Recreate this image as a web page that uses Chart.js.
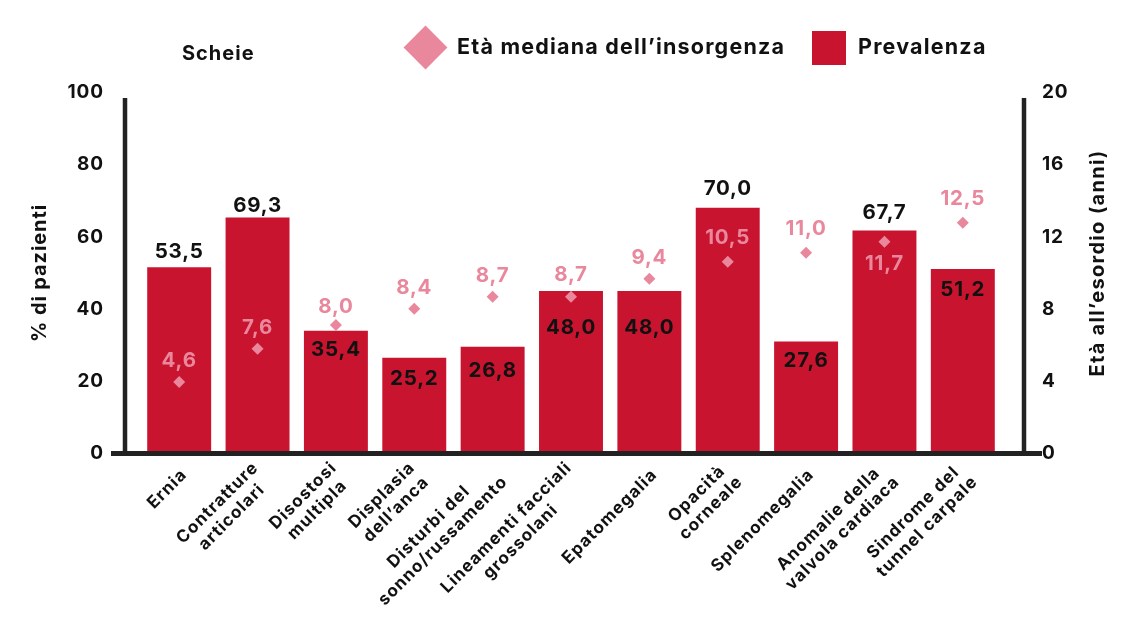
<!DOCTYPE html>
<html lang="it">
<head>
<meta charset="utf-8">
<title>Scheie</title>
<script src="https://cdn.jsdelivr.net/npm/chart.js@4.4.1/dist/chart.umd.min.js"></script>
<style>
  body { margin: 0; background: #fff; font-family: Inter, "Open Sans", sans-serif; }
  #wrap { position: relative; width: 1146px; height: 635px; }
  #wrap canvas { position: absolute; left: 0; top: 0; }
  .lg { position: absolute; font-weight: 700; font-size: 21.5px; letter-spacing: 1.2px; color: #111; white-space: nowrap; line-height: 26px; }
  .sw-diamond { position: absolute; width: 31px; height: 31px; background: #E9879D; transform: rotate(45deg); }
  .sw-square { position: absolute; width: 34px; height: 34px; background: #C8142F; }
</style>
</head>
<body>
<div id="wrap">
  <canvas id="chart" width="1146" height="635"></canvas>
  <div class="lg" style="left:182px; top:40px; font-size:20px; letter-spacing:1px;">Scheie</div>
  <div class="sw-diamond" style="left:410px; top:32px;"></div>
  <div class="lg" style="left:457px; top:33px;">Età mediana dell’insorgenza</div>
  <div class="sw-square" style="left:812px; top:31px;"></div>
  <div class="lg" style="left:858px; top:33px;">Prevalenza</div>
</div>
<script>
// categories (multi-line labels)
var categorie = [
    ['Ernia'],
    ['Contratture', 'articolari'],
    ['Disostosi', 'multipla'],
    ['Displasia', 'dell’anca'],
    ['Disturbi del', 'sonno/russamento'],
    ['Lineamenti facciali', 'grossolani'],
    ['Epatomegalia'],
    ['Opacità', 'corneale'],
    ['Splenomegalia'],
    ['Anomalie della', 'valvola cardiaca'],
    ['Sindrome del', 'tunnel carpale']
];

// bar heights as drawn (% di pazienti) and the printed values
var prevalenza = [51.6, 65.4, 34.0, 26.5, 29.6, 45.0, 45.0, 68.1, 31.0, 61.8, 51.1];
var prevalenzaEtichetta = [53.5, 69.3, 35.4, 25.2, 26.8, 48.0, 48.0, 70.0, 27.6, 67.7, 51.2];

// diamond positions (anni) and the printed values
var etaMediana = [3.96, 5.81, 7.12, 8.02, 8.69, 8.69, 9.68, 10.63, 11.12, 11.73, 12.79];
var etaEtichetta = [4.6, 7.6, 8.0, 8.4, 8.7, 8.7, 9.4, 10.5, 11.0, 11.7, 12.5];

// axis ticks
var ticksSinistra = [0, 20, 40, 60, 80, 100];
var ticksDestra = [0, 4, 8, 12, 16, 20];

var ROSSO = '#C8142F';
var ROSA = '#E9879D';
var SCURO = '#222222';
var FONT = 'Inter, "Open Sans", sans-serif';

function virgola(v) {
    return v.toFixed(1).replace('.', ',');
}

var extras = {
    id: 'extras',
    beforeDraw: function (chart) {
        chart.ctx.letterSpacing = '0.9px';
    },
    afterDatasetsDraw: function (chart) {
        var ctx = chart.ctx;
        var area = chart.chartArea;
        var opt = chart.options.plugins.extras;
        ctx.save();

        // axis lines
        ctx.strokeStyle = SCURO;
        ctx.lineCap = 'butt';
        ctx.lineWidth = 4.5;
        ctx.beginPath();
        ctx.moveTo(area.left - 15, 98);
        ctx.lineTo(area.left - 15, area.bottom);
        ctx.moveTo(area.right + 22, 98);
        ctx.lineTo(area.right + 22, area.bottom);
        ctx.stroke();
        ctx.lineWidth = 5;
        ctx.beginPath();
        ctx.moveTo(area.left - 29, area.bottom);
        ctx.lineTo(area.right + 40, area.bottom);
        ctx.stroke();

        // value labels
        ctx.font = 'bold 20.5px ' + FONT;
        ctx.letterSpacing = '0.8px';
        ctx.textAlign = 'center';
        ctx.textBaseline = 'middle';
        var bars = chart.getDatasetMeta(0).data;
        bars.forEach(function (bar, i) {
            ctx.fillStyle = '#111';
            ctx.fillText(virgola(prevalenzaEtichetta[i]), bar.x, bar.y + opt.prevDy[i]);
        });
        var pts = chart.getDatasetMeta(1).data;
        pts.forEach(function (p, i) {
            ctx.fillStyle = ROSA;
            ctx.fillText(virgola(etaEtichetta[i]), p.x, p.y + opt.etaDy[i]);
        });

        // category labels, rotated 45deg, lines centred
        var xs = chart.scales.x;
        ctx.font = 'bold 17px ' + FONT;
        ctx.letterSpacing = '1.1px';
        ctx.fillStyle = '#111';
        var lh = 20;
        categorie.forEach(function (righe, i) {
            var x = xs.getPixelForValue(i) + 5;
            var w = 0;
            righe.forEach(function (r) { w = Math.max(w, ctx.measureText(r).width); });
            ctx.save();
            ctx.translate(x, 472);
            ctx.rotate(-Math.PI / 4);
            righe.forEach(function (r, k) {
                ctx.fillText(r, -w / 2, (k - (righe.length - 1) / 2) * lh);
            });
            ctx.restore();
        });

        // right axis title, reading bottom to top
        ctx.font = 'bold 20px ' + FONT;
        ctx.letterSpacing = '1.3px';
        ctx.translate(1098, 263);
        ctx.rotate(-Math.PI / 2);
        ctx.fillText('Età all’esordio (anni)', 0, 0);
        ctx.restore();
    }
};

var tickFont = { family: FONT, size: 19, weight: 'bold' };

new Chart(document.getElementById('chart'), {
    type: 'bar',
    data: {
        labels: categorie,
        datasets: [{
            type: 'bar',
            label: 'Prevalenza',
            data: prevalenza,
            backgroundColor: ROSSO,
            yAxisID: 'y',
            categoryPercentage: 1,
            barPercentage: 0.816,
            order: 2
        }, {
            type: 'line',
            label: 'Età mediana dell’insorgenza',
            data: etaMediana,
            yAxisID: 'y1',
            showLine: false,
            pointStyle: 'rectRot',
            pointRadius: 6,
            pointBorderWidth: 0,
            backgroundColor: ROSA,
            borderColor: ROSA,
            order: 1
        }]
    },
    options: {
        responsive: false,
        animation: false,
        layout: { padding: { top: 92.5, left: 0, right: 0, bottom: 0 } },
        plugins: {
            legend: { display: false },
            tooltip: { enabled: false },
            extras: {
                prevDy: [-15, -12, 19, 21, 24, 37, 37, -19, 19, -18, 21],
                etaDy: [-21, -21, -18, -21, -21, -22, -21, -24, -24, 22, -24]
            }
        },
        scales: {
            x: {
                grid: { display: false, drawTicks: false },
                border: { display: false },
                ticks: { display: false },
                afterFit: function (s) { s.height = 181.5; }
            },
            y: {
                position: 'left',
                min: 0,
                max: 100,
                afterBuildTicks: function (s) { s.ticks = ticksSinistra.map(function (v) { return { value: v }; }); },
                ticks: { padding: 36, color: '#111', font: tickFont },
                grid: { display: false, drawTicks: false },
                border: { display: false },
                title: {
                    display: true,
                    text: '% di pazienti',
                    color: '#111',
                    padding: { top: 28, bottom: 0 },
                    font: { family: FONT, size: 20, weight: 'bold' }
                },
                afterFit: function (s) { s.width = 140; }
            },
            y1: {
                position: 'right',
                min: 0,
                max: 20,
                afterBuildTicks: function (s) { s.ticks = ticksDestra.map(function (v) { return { value: v }; }); },
                ticks: { padding: 40, color: '#111', font: tickFont },
                grid: { display: false, drawTicks: false },
                border: { display: false },
                afterFit: function (s) { s.width = 144; }
            }
        }
    },
    plugins: [extras]
});
</script>
</body>
</html>
